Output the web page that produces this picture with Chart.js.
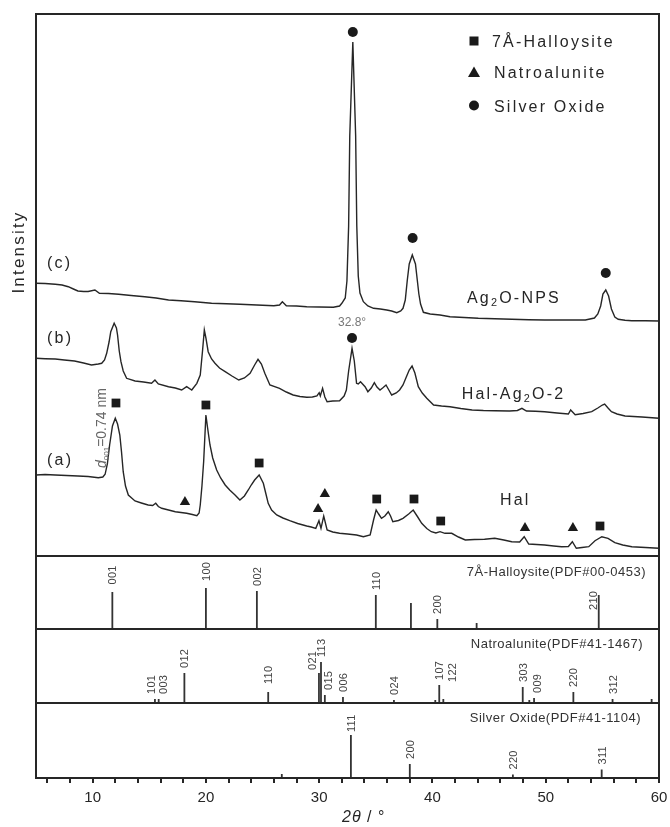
<!DOCTYPE html>
<html>
<head>
<meta charset="utf-8">
<script src="https://cdn.jsdelivr.net/npm/chart.js@4.4.0/dist/chart.umd.min.js"></script>
<style>
  html, body { margin: 0; padding: 0; background: #fff; }
  #wrap { width: 670px; height: 827px; position: relative; }
</style>
</head>
<body>
<div id="wrap"><canvas id="xrd"></canvas></div>
<script>
const FONT = '"Liberation Sans", Arial, sans-serif';
const INK = '#262626';

// XRD scans: [2θ in degrees, intensity in a.u. (curves are offset)]
const scanC = [[5.0,272.7],[5.8,272.5],[6.7,271.7],[7.3,271],[7.85,269.3],[8.3,267],[8.7,265],[9.2,264.5],[9.6,264.5],[10.2,266],[10.6,262.7],[11.4,262.5],[12.3,261.7],[13.4,260.5],[14.6,259.3],[15.6,258],[16.7,256],[17.8,255.3],[19.0,254.3],[20.5,252.7],[21.8,252.3],[23.0,251.7],[24.5,251],[26.0,250.3],[26.5,251],[26.75,254.3],[27.1,250.3],[28.0,250],[28.9,249.3],[30.0,249],[31.25,248.7],[31.8,250],[32.0,252.7],[32.3,258],[32.45,275],[32.6,330],[32.7,420],[32.97,514],[33.22,420],[33.32,330],[33.45,280],[33.6,263],[33.9,254.3],[34.3,250],[34.8,247.7],[35.4,247],[35.96,246],[36.4,245],[36.85,243.3],[37.2,245],[37.4,247.7],[37.6,256],[37.78,276],[37.95,292],[38.22,301],[38.5,292],[38.66,276],[38.8,262],[38.95,252],[39.2,243.7],[39.8,242],[40.67,241],[41.55,239.3],[42.8,238.5],[44.05,237.7],[45.5,237.2],[47.0,236.7],[48.5,236.3],[49.9,236],[51.7,236],[53.5,236],[54.3,238],[54.6,242],[54.85,250],[55.05,262],[55.3,266],[55.55,260],[55.8,247],[56.1,239],[56.4,236.7],[57.0,235.8],[57.6,235.3],[58.8,235.2],[60,235]];

const scanB = [[5.0,197.7],[5.8,197.3],[6.7,197],[7.5,196],[8.4,195],[9.2,193],[9.9,191],[10.5,192],[10.8,192.7],[11.05,196],[11.24,202.7],[11.45,214],[11.6,224.3],[11.9,232.7],[12.1,228],[12.2,221],[12.35,205],[12.5,194.3],[12.7,185],[13.0,177.7],[13.75,175],[14.5,174],[15.2,172.7],[15.5,176],[15.8,172],[16.7,169.3],[17.3,168],[17.86,166],[18.3,169.3],[18.75,166],[19.2,172.7],[19.5,181],[19.7,205],[19.86,226],[20.0,218],[20.2,204.3],[20.5,197],[20.8,192.7],[21.2,188],[21.7,184.3],[22.3,180],[22.9,176],[23.4,178],[23.9,182.7],[24.3,191],[24.6,196.7],[24.9,192],[25.2,182.7],[25.65,171],[26.5,167.7],[27.1,164],[27.7,161],[28.3,159.5],[28.9,158.7],[29.4,159],[29.8,160],[30.0,163.3],[30.1,160],[30.3,167.7],[30.5,159],[30.7,154.3],[31.2,155],[31.8,155.3],[32.2,160],[32.4,166],[32.6,185],[32.9,207.7],[33.1,195],[33.3,172.7],[33.45,172],[33.65,174.3],[34.05,169.3],[34.3,164.3],[34.6,168],[34.87,173.3],[35.1,169],[35.37,166],[35.6,168],[35.9,171],[36.15,166],[36.4,161],[36.8,163],[37.1,166],[37.4,171],[37.7,179.3],[37.95,186],[38.2,190],[38.45,183],[38.75,169.3],[39.1,163],[39.5,157.7],[40.1,151],[40.8,150],[41.55,149.3],[42.5,147.5],[43.5,146],[44.5,145.5],[45.5,145.3],[46.8,145],[47.5,145.5],[47.9,147.7],[48.3,145],[49.1,144.8],[49.9,144.3],[51.0,143],[52.0,142],[52.2,146],[52.6,141.3],[53.3,142.5],[54.06,144.3],[54.6,148],[55.0,151],[55.2,152],[55.5,148],[55.8,144.3],[56.3,142],[57.0,140],[58.5,139],[60,137.7]];

const scanA = [[5.0,81],[5.8,81.5],[6.7,81],[7.7,80.5],[8.7,80],[9.6,79.5],[10.5,78.3],[10.9,79],[11.1,81.7],[11.3,92],[11.5,111],[11.75,130],[12.0,137.7],[12.2,132],[12.4,121],[12.55,104],[12.7,84.3],[12.9,70],[13.15,61],[13.74,55],[14.3,53],[14.9,51],[15.3,50.5],[15.57,52.7],[15.8,49.5],[16.1,47.7],[16.7,46],[17.3,44.3],[17.8,43.5],[18.3,42.7],[18.8,41.5],[19.2,40.3],[19.4,43],[19.5,51],[19.65,70],[19.8,94.3],[20.0,141],[20.15,128],[20.36,111],[20.6,98],[20.95,86],[21.3,78],[21.7,71],[22.1,66],[22.57,61],[23.0,56],[23.4,60],[23.74,66],[24.0,71],[24.3,76],[24.7,81],[25.07,72.7],[25.3,62],[25.5,52.7],[25.8,46],[26.25,41],[26.8,38],[27.4,35.3],[28.1,32.5],[28.9,30],[29.3,29],[29.7,27.7],[29.98,35.3],[30.16,27.7],[30.4,40],[30.7,26],[31.2,24],[31.8,22.7],[32.5,22],[33.3,21],[33.9,19.3],[34.5,21],[34.8,36],[35.03,46],[35.25,42],[35.5,37.7],[35.8,40],[36.1,44.3],[36.3,40],[36.5,34.3],[37.0,35.5],[37.4,37.7],[37.9,42],[38.3,46],[38.7,39],[39.05,32.7],[39.5,27.5],[39.9,24.3],[40.3,23],[40.67,24.3],[41.1,22.7],[41.7,22.7],[42.3,19],[42.9,16],[43.7,16.5],[44.6,16.7],[45.5,17.7],[46.3,16],[47.0,14.3],[47.7,14],[48.1,19.3],[48.5,12],[49.2,11.5],[49.9,11],[50.7,10],[51.4,9.3],[52.0,9.5],[52.35,14.3],[52.7,7.7],[53.2,8.5],[53.8,9.3],[54.35,15.3],[54.95,19.3],[55.5,17.7],[56.1,13.3],[56.8,11],[57.6,9.3],[58.8,8.5],[60,7.7]];

// phase markers above the peaks
const silverMarks = [[32.97,524],[38.25,318],[55.3,283],[32.9,218]];
const hallMarks = [[12.06,153],[20.0,151],[24.7,93],[35.08,57],[38.37,57],[40.73,35],[54.79,30]];
const natroMarks = [[18.15,54],[29.9,47],[30.5,62],[48.17,28],[52.4,28]];

// reference patterns (PDF cards)
const halPos = [11.74, 20.0, 24.5, 35.0, 38.1, 40.43, 43.9, 54.68];
const halInt = [37, 41, 38, 34, 26, 10, 6, 34];
const halHkl = ['001', '100', '002', '110', '', '200', '', '210'];

const natroPos = [15.5, 15.83, 18.1, 25.5, 29.98, 30.16, 30.5, 32.1, 36.6, 40.25, 40.6, 40.96, 47.97, 48.55, 48.97, 52.44, 55.9, 59.35];
const natroInt = [4, 4, 30, 11, 30, 41, 8, 6, 3, 3, 18, 4, 16, 3, 5, 11, 4, 4];
const natroHkl = ['101', '003', '012', '110', '021', '113', '015', '006', '024', '', '107', '122', '303', '', '009', '220', '312', ''];

const silverPos = [26.7, 32.8, 38.0, 47.1, 54.94];
const silverInt = [4, 43, 14, 3.5, 8.5];
const silverHkl = ['', '111', '200', '220', '311'];

const xTicks = [6, 8, 10, 12, 14, 16, 18, 20, 22, 24, 26, 28, 30, 32, 34, 36, 38, 40, 42, 44, 46, 48, 50, 52, 54, 56, 58, 60];

const pts = arr => arr.map(([x, y]) => ({x, y}));
const sticks = (pos, inten) => pos.flatMap((p, i) => [{x: p, y: 0}, {x: p, y: inten[i]}, {x: p, y: null}]);

const scan = data => ({
  data: pts(data), yAxisID: 'yMain', borderColor: INK, borderWidth: 1.4,
  pointRadius: 0, tension: 0
});
const stickSet = (pos, inten, axis) => ({
  data: sticks(pos, inten), yAxisID: axis, borderColor: '#333', borderWidth: 1.8,
  pointRadius: 0, spanGaps: false
});
const marks = (data, style, r) => ({
  data: pts(data), yAxisID: 'yMain', showLine: false, pointStyle: style,
  pointRadius: r, backgroundColor: '#1a1a1a', borderWidth: 0
});

const panel = (weight) => ({
  type: 'linear', position: 'left', stack: 'xrd', stackWeight: weight,
  min: 0, max: weight,
  ticks: { display: false }, grid: { display: false }, border: { display: false },
  afterFit: s => { s.width = 0; }
});

// label nudges for crowded reflections
const nudge = {
  'yHal:001': {gap: 7.5}, 'yHal:100': {gap: 7}, 'yHal:210': {dx: -5.5, gap: -15},
  'yNatro:101': {dx: -3.5}, 'yNatro:003': {dx: 4.5}, 'yNatro:021': {dx: -7, gap: 3},
  'yNatro:015': {dx: 3.5}, 'yNatro:122': {dx: 8.5, gap: 17}, 'yNatro:009': {dx: 3},
  'yNatro:110': {gap: 8}, 'ySilver:111': {gap: 3}
};

function rich(ctx, parts, x, y, size) {
  // parts: [text, isSubscript]
  let cx = x;
  parts.forEach(([t, sub]) => {
    ctx.font = (sub ? size * 0.68 : size) + 'px ' + FONT;
    ctx.fillText(t, cx, sub ? y + size * 0.2 : y);
    cx += ctx.measureText(t).width;
  });
}

const decor = {
  id: 'decor',
  afterDatasetsDraw(chart) {
    const {ctx, chartArea: a, scales} = chart;
    const xs = scales.x, ym = scales.yMain;
    ctx.save();

    // frame and panel separators
    ctx.strokeStyle = INK;
    ctx.lineWidth = 2;
    ctx.strokeRect(a.left, a.top, a.right - a.left, a.bottom - a.top);
    ['yHal', 'yNatro', 'ySilver'].forEach(id => {
      const y = Math.round(scales[id].top);
      ctx.beginPath(); ctx.moveTo(a.left, y); ctx.lineTo(a.right, y); ctx.stroke();
    });

    // hkl labels on sticks
    ctx.fillStyle = '#444';
    ctx.font = '11px ' + FONT;
    ctx.letterSpacing = '0.3px';
    ctx.textAlign = 'left';
    ctx.textBaseline = 'middle';
    [['yHal', halPos, halInt, halHkl], ['yNatro', natroPos, natroInt, natroHkl], ['ySilver', silverPos, silverInt, silverHkl]]
      .forEach(([id, pos, inten, hkl]) => {
        pos.forEach((p, i) => {
          if (!hkl[i]) return;
          const n = nudge[id + ':' + hkl[i]] || {};
          const x = xs.getPixelForValue(p) + 1 + (n.dx || 0);
          const y = scales[id].getPixelForValue(inten[i]) - (n.gap !== undefined ? n.gap : 5);
          ctx.save();
          ctx.translate(x, y);
          ctx.rotate(-Math.PI / 2);
          ctx.fillText(hkl[i], 0, 0);
          ctx.restore();
        });
      });

    // card titles
    ctx.fillStyle = '#333';
    ctx.font = '13px ' + FONT;
    ctx.letterSpacing = '0.5px';
    ctx.textAlign = 'right';
    ctx.fillText('7Å-Halloysite(PDF#00-0453)', 646, scales.yHal.top + 16);
    ctx.fillText('Natroalunite(PDF#41-1467)', 643, scales.yNatro.top + 15);
    ctx.fillText('Silver Oxide(PDF#41-1104)', 641, scales.ySilver.top + 15.5);

    // curve tags and sample names
    ctx.fillStyle = INK;
    ctx.textAlign = 'left';
    ctx.textBaseline = 'alphabetic';
    ctx.letterSpacing = '2.2px';
    const base = (v, s) => ym.getPixelForValue(v) + s * 0.36;
    [['(c)', 294], ['(b)', 219], ['(a)', 97]].forEach(([t, v]) => {
      ctx.font = '16px ' + FONT;
      ctx.fillText(t, 47, base(v, 16));
    });
    rich(ctx, [['Ag'], ['2', 1], ['O-NPS']], xs.getPixelForValue(43.05), base(258.5, 16), 16);
    rich(ctx, [['Hal-Ag'], ['2', 1], ['O-2']], xs.getPixelForValue(42.58), base(162.7, 16), 16);
    rich(ctx, [['Hal']], xs.getPixelForValue(45.96), base(57.2, 16), 16);

    // legend
    const lx = 474, tx = 492;
    ctx.fillStyle = '#1a1a1a';
    ctx.fillRect(lx - 4.5, 41 - 4.5, 9, 9);
    ctx.beginPath(); ctx.moveTo(lx, 66.5); ctx.lineTo(lx + 6, 77); ctx.lineTo(lx - 6, 77); ctx.closePath(); ctx.fill();
    ctx.beginPath(); ctx.arc(lx, 105.5, 5, 0, Math.PI * 2); ctx.fill();
    ctx.fillStyle = INK;
    ctx.font = '16px ' + FONT;
    ctx.fillText('7Å-Halloysite', tx, 41.5 + 5.8);
    ctx.fillText('Natroalunite', tx + 2, 72 + 5.8);
    ctx.fillText('Silver Oxide', tx + 2, 105.8 + 5.8);

    // peak annotations
    ctx.letterSpacing = '0px';
    ctx.fillStyle = '#777';
    ctx.font = '12px ' + FONT;
    ctx.textAlign = 'center';
    ctx.textBaseline = 'middle';
    ctx.fillText('32.8°', xs.getPixelForValue(32.9), ym.getPixelForValue(233));

    ctx.save();
    ctx.translate(xs.getPixelForValue(11.2), ym.getPixelForValue(88));
    ctx.rotate(-Math.PI / 2);
    ctx.textAlign = 'left';
    ctx.textBaseline = 'alphabetic';
    ctx.fillStyle = '#666';
    ctx.font = 'italic 14px ' + FONT;
    ctx.fillText('d', 0, 0);
    let w = ctx.measureText('d').width;
    ctx.font = '8px ' + FONT;
    ctx.fillText('001', w, 3);
    w += ctx.measureText('001').width;
    ctx.font = '14px ' + FONT;
    ctx.fillText('=0.74 nm', w, 0);
    ctx.restore();

    // axis titles
    ctx.fillStyle = INK;
    ctx.letterSpacing = '2.2px';
    ctx.font = '17px ' + FONT;
    ctx.save();
    ctx.translate(19, 252);
    ctx.rotate(-Math.PI / 2);
    ctx.textAlign = 'center';
    ctx.fillText('Intensity', 0, 0);
    ctx.restore();

    ctx.letterSpacing = '1px';
    ctx.textAlign = 'left';
    ctx.textBaseline = 'alphabetic';
    ctx.font = 'italic 16px ' + FONT;
    ctx.fillText('2θ', 342, 822);
    const w2 = ctx.measureText('2θ').width;
    ctx.font = '16px ' + FONT;
    ctx.fillText(' / °', 342 + w2, 822);

    ctx.letterSpacing = '0px';
    ctx.restore();
  }
};

new Chart(document.getElementById('xrd'), {
  type: 'line',
  data: {
    datasets: [
      scan(scanC), scan(scanB), scan(scanA),
      marks(silverMarks, 'circle', 5),
      marks(hallMarks, 'rect', 6.2),
      marks(natroMarks, 'triangle', 6),
      stickSet(halPos, halInt, 'yHal'),
      stickSet(natroPos, natroInt, 'yNatro'),
      stickSet(silverPos, silverInt, 'ySilver')
    ]
  },
  options: {
    responsive: true,
    maintainAspectRatio: false,
    animation: false,
    events: [],
    layout: { padding: { left: 36, right: 11, top: 14, bottom: 0 } },
    plugins: { legend: { display: false }, tooltip: { enabled: false } },
    scales: {
      x: {
        type: 'linear', min: 5, max: 60,
        afterBuildTicks: s => { s.ticks = xTicks.map(v => ({value: v})); },
        ticks: {
          autoSkip: false, maxRotation: 0, padding: 6, color: INK,
          font: { family: FONT, size: 15 },
          callback: v => (v % 10 === 0 ? String(v) : '')
        },
        grid: { drawOnChartArea: false, drawTicks: true, tickLength: 5, color: INK, lineWidth: 2 },
        border: { display: false },
        afterFit: s => { s.height = 49; s.paddingLeft = 0; s.paddingRight = 0; }
      },
      ySilver: panel(75),
      yNatro: panel(74),
      yHal: panel(73),
      yMain: panel(542)
    }
  },
  plugins: [decor]
});
</script>
</body>
</html>
